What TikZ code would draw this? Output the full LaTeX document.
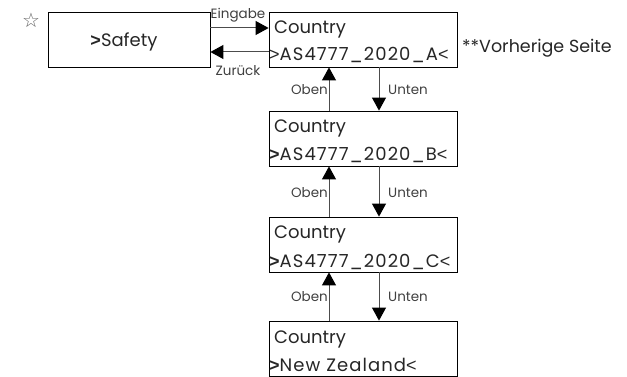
\documentclass[tikz,border=0pt]{standalone}
\usepackage{fontspec}
\setmainfont{Poppins}
\newfontfamily\symfont{DejaVu Sans}
\newfontfamily\gtfont{Liberation Sans}
\newcommand{\gtsym}{{\gtfont >}}
\newcommand{\ltsym}{{\gtfont <}}
\newcommand{\bgtsym}{{\gtfont\bfseries >}}
\usetikzlibrary{arrows.meta}
\tikzset{
  box/.style={draw=black, line width=0.8pt, minimum width=188pt, minimum height=55pt, inner sep=0pt},
  lbox/.style={draw=black, line width=0.8pt, minimum width=162pt, minimum height=55pt, inner sep=0pt},
  txt/.style={inner sep=0pt, font=\fontsize{18}{20}\selectfont, text=black!85},
  wtxt/.style={txt, font=\fontsize{18}{20}\selectfont\addfontfeature{LetterSpace=6}},
  lbl/.style={inner sep=0pt, font=\fontsize{13.5}{15}\selectfont, text=black!75},
  arr/.style={draw=black!70, line width=1pt, -{Triangle[length=13pt,width=14pt,color=black]}}
}
\begin{document}
\begin{tikzpicture}[x=1pt,y=-1pt]
\useasboundingbox (0,0) rectangle (627,377);
% star
\node[inner sep=0pt, font=\symfont\fontsize{20}{20}\selectfont, text=black!60] (star) at (31,20) {☆};
% safety box
\node[lbox] (s) at (129,39.5) {};
\node[txt, anchor=base] (st) at (124,47) {\bgtsym Safety};
% boxes
\node[box] (a) at (363,39.5) {};
\node[box] (b) at (363,138.5) {};
\node[box] (c) at (363,244.5) {};
\node[box] (d) at (363,348.5) {};
\node[txt, anchor=base west] (a1) at (274,34) {Country};
\node[wtxt, anchor=base west] (a2) at (269,61) {\gtsym AS4777\_2020\_A\ltsym};
\node[txt, anchor=base west] (b1) at (274,133) {Country};
\node[wtxt, anchor=base west] (b2) at (269,161) {\bgtsym AS4777\_2020\_B\ltsym};
\node[txt, anchor=base west] (c1) at (274,239) {Country};
\node[wtxt, anchor=base west] (c2) at (269,267) {\bgtsym AS4777\_2020\_C\ltsym};
\node[txt, anchor=base west] (d1) at (274,343) {Country};
\node[wtxt, anchor=base west] (d2) at (269,371) {\bgtsym New Zealand\ltsym};
\node[txt, anchor=base west, font=\fontsize{17.5}{19}\selectfont] (vs) at (462,53) {**Vorherige Seite};
% horizontal arrows
\draw[arr] ([yshift=11.5pt]s.east) -- ([yshift=11.5pt]s.east -| a.west);
\draw[arr] ([yshift=-12.5pt]a.west) -- ([yshift=-12.5pt]a.west -| s.east);
\node[lbl, anchor=base] (ein) at (238,19) {Eingabe};
\node[lbl, anchor=base] (zur) at (238,76) {Zurück};
% vertical arrows
\draw[arr] ([xshift=-34pt]b.north) -- ([xshift=-34pt]a.south);
\draw[arr] ([xshift=16pt]a.south) -- ([xshift=16pt]b.north);
\draw[arr] ([xshift=-34pt]c.north) -- ([xshift=-34pt]b.south);
\draw[arr] ([xshift=16pt]b.south) -- ([xshift=16pt]c.north);
\draw[arr] ([xshift=-34pt]d.north) -- ([xshift=-34pt]c.south);
\draw[arr] ([xshift=16pt]c.south) -- ([xshift=16pt]d.north);
\node[lbl, anchor=base east] (o1) at (328,95) {Oben};
\node[lbl, anchor=base west] (u1) at (388,95) {Unten};
\node[lbl, anchor=base east] (o2) at (328,197) {Oben};
\node[lbl, anchor=base west] (u2) at (388,197) {Unten};
\node[lbl, anchor=base east] (o3) at (328,301) {Oben};
\node[lbl, anchor=base west] (u3) at (388,301) {Unten};
\end{tikzpicture}
\end{document}
